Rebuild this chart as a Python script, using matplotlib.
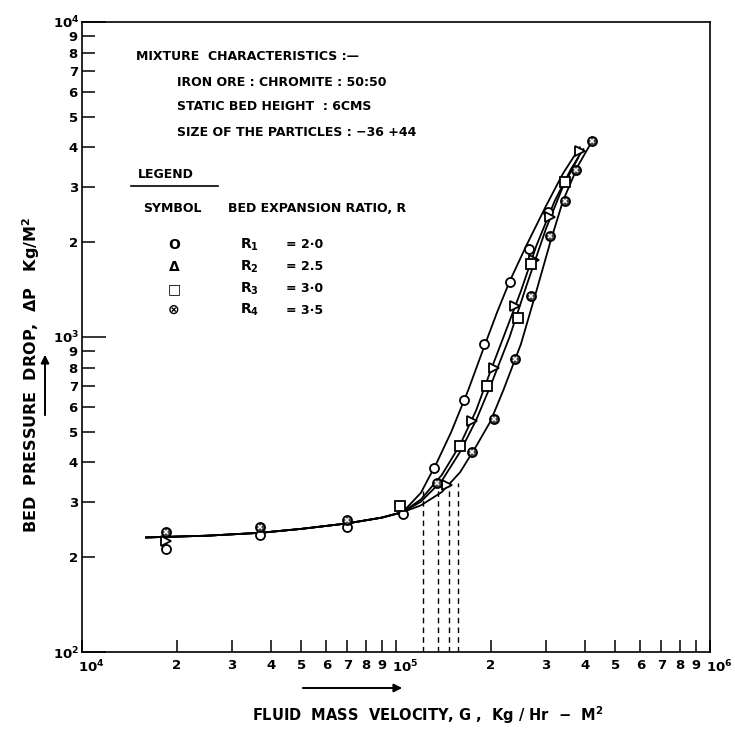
import matplotlib.pyplot as plt
import matplotlib.transforms as mtransforms

plt.rcParams['font.family'] = ['DejaVu Sans']
plt.rcParams['font.weight'] = 'bold'
plt.rcParams['mathtext.default'] = 'bf'

# measured points, G (kg/hr-m2) vs dP (kg/m2)
r1_x = [1.85e4, 3.7e4, 7.0e4, 1.05e5, 1.32e5, 1.65e5, 1.9e5, 2.3e5, 2.65e5, 3.05e5]
r1_y = [213, 236, 250, 275, 385, 630, 950, 1500, 1900, 2500]

r2_x = [1.85e4, 1.45e5, 1.75e5, 2.05e5, 2.4e5, 2.75e5, 3.1e5, 3.85e5]
r2_y = [225, 340, 540, 800, 1250, 1750, 2400, 3900]

r3_x = [1.03e5, 1.6e5, 1.95e5, 2.45e5, 2.7e5, 3.45e5]
r3_y = [290, 450, 700, 1150, 1700, 3100]

r4_x = [1.85e4, 3.7e4, 7.0e4, 1.35e5, 1.75e5, 2.05e5, 2.4e5, 2.7e5, 3.1e5, 3.45e5, 3.75e5, 4.2e5]
r4_y = [240, 249, 263, 345, 430, 550, 850, 1350, 2100, 2700, 3400, 4200]

# fitted curves
base_x = [1.6e4, 2.5e4, 3.7e4, 5e4, 7e4, 9e4, 1.05e5]
base_y = [231, 234, 239, 246, 256, 267, 278]

c1_x = base_x + [1.2e5, 1.35e5, 1.5e5, 1.7e5, 1.9e5, 2.1e5, 2.3e5, 2.6e5, 3.0e5, 3.4e5, 3.85e5]
c1_y = base_y + [320, 400, 500, 680, 920, 1200, 1500, 1950, 2600, 3300, 4000]

c2_x = base_x + [1.2e5, 1.4e5, 1.6e5, 1.8e5, 2.0e5, 2.2e5, 2.5e5, 2.8e5, 3.2e5, 3.6e5, 3.95e5]
c2_y = base_y + [305, 365, 455, 585, 780, 1000, 1400, 1950, 2700, 3400, 3950]

c3_x = base_x + [1.2e5, 1.4e5, 1.6e5, 1.8e5, 2.0e5, 2.3e5, 2.6e5, 3.0e5, 3.4e5, 3.8e5]
c3_y = base_y + [300, 350, 432, 545, 700, 1000, 1450, 2200, 3000, 3700]

c4_x = base_x + [1.2e5, 1.4e5, 1.6e5, 1.8e5, 2.0e5, 2.2e5, 2.5e5, 2.8e5, 3.1e5, 3.4e5, 3.8e5, 4.25e5]
c4_y = base_y + [292, 322, 372, 450, 540, 680, 950, 1400, 2000, 2700, 3500, 4250]

# minimum fluidisation verticals
dash_x = [1.22e5, 1.36e5, 1.47e5, 1.58e5]
dash_top = [330, 345, 345, 345]

xmaj = [1e4, 1e5, 1e6]
xmaj_lab = [r'$10^{4}$', r'$10^{5}$', r'$10^{6}$']
ymaj = [1e2, 1e3, 1e4]
ymaj_lab = [r'$10^{2}$', r'$10^{3}$', r'$10^{4}$']
minor_k = [2, 3, 4, 5, 6, 7, 8, 9]

W, H = 735, 736


def fx(p):
    return p / W


def fy(p):
    return 1 - p / H


fig = plt.figure(figsize=(W / 100, H / 100), dpi=100)
ax = fig.add_axes([fx(82), fy(652), (710 - 82) / W, (652 - 22) / H])
ax.set_xscale('log')
ax.set_yscale('log')
ax.set_xlim(1e4, 1e6)
ax.set_ylim(1e2, 1e4)

for cx, cy in [(c1_x, c1_y), (c2_x, c2_y), (c3_x, c3_y), (c4_x, c4_y)]:
    ax.plot(cx, cy, color='black', lw=1.3, zorder=2)

ax.vlines(dash_x, 100, dash_top, colors='black', linestyles=(0, (4, 3)), lw=1.0)

mk = dict(linestyle='none', markersize=6.5, markeredgewidth=1.3, markeredgecolor='black', zorder=3)
ax.plot(r1_x, r1_y, marker='o', markerfacecolor='white', **mk)
ax.plot(r2_x, r2_y, marker='>', markerfacecolor='white', **mk)
ax.plot(r3_x, r3_y, marker='s', markerfacecolor='white', **mk)
ax.plot(r4_x, r4_y, marker='o', markerfacecolor='#444444', **mk)
ax.plot(r4_x, r4_y, marker='x', linestyle='none', markersize=3.5, markeredgewidth=1.1,
        color='white', zorder=4)

ax.set_xticks(xmaj, xmaj_lab)
ax.set_xticks([k * 10 ** d for d in (4, 5) for k in minor_k],
              [str(k) for d in (4, 5) for k in minor_k], minor=True)
ax.set_yticks(ymaj, ymaj_lab)
ax.set_yticks([k * 10 ** d for d in (2, 3) for k in minor_k],
              [str(k) for d in (2, 3) for k in minor_k], minor=True)

ax.tick_params(axis='both', which='both', direction='in', width=1.1, labelsize=9.5,
               top=False, right=False)
ax.tick_params(axis='x', which='both', length=9, pad=5)
ax.tick_params(axis='y', which='minor', length=9, pad=3)
ax.tick_params(axis='y', which='major', length=17, pad=2)
for s in ax.spines.values():
    s.set_linewidth(1.2)

# decade labels sit just right of their tick, as on the drawing
shift = mtransforms.ScaledTranslation(-4 / 100, 0, fig.dpi_scale_trans)
for lab in ax.get_xticklabels():
    lab.set_horizontalalignment('left')
    lab.set_transform(lab.get_transform() + shift)

fs = 9
fig.text(fx(136), fy(57), 'MIXTURE  CHARACTERISTICS :—', fontsize=fs, va='center')
fig.text(fx(177), fy(82), 'IRON ORE : CHROMITE : 50:50', fontsize=fs, va='center')
fig.text(fx(177), fy(107), 'STATIC BED HEIGHT  : 6CMS', fontsize=fs, va='center')
fig.text(fx(177), fy(132), 'SIZE OF THE PARTICLES : −36 +44', fontsize=fs, va='center')
fig.text(fx(138), fy(175), 'LEGEND', fontsize=fs, va='center')
fig.add_artist(plt.Line2D([fx(131), fx(218)], [fy(186), fy(186)], color='black', lw=1.2))
fig.text(fx(143), fy(208), 'SYMBOL', fontsize=fs, va='center')
fig.text(fx(228), fy(208), 'BED EXPANSION RATIO, R', fontsize=fs, va='center')

sym = ['O', 'Δ', '□', '⊗']
rlab = [r'$R_{1}$', r'$R_{2}$', r'$R_{3}$', r'$R_{4}$']
rval = ['= 2·0', '= 2.5', '= 3·0', '= 3·5']
rows = [245, 267, 289, 310]
for s, r, v, yy in zip(sym, rlab, rval, rows):
    fig.text(fx(174), fy(yy), s, fontsize=fs + 1, va='center', ha='center')
    fig.text(fx(240), fy(yy), r, fontsize=fs + 1, va='center')
    fig.text(fx(286), fy(yy), v, fontsize=fs, va='center')

fig.text(fx(31), fy(375), r'BED  PRESSURE  DROP,  ΔP   Kg/M$^{2}$', fontsize=11.5,
         rotation=90, ha='center', va='center')
fig.text(fx(428), fy(715), r'FLUID  MASS  VELOCITY, G ,  Kg / Hr  −  M$^{2}$', fontsize=10.5,
         ha='center', va='center')

ax.annotate('', xy=(fx(45), fy(352)), xytext=(fx(45), fy(418)), xycoords='figure fraction',
            arrowprops=dict(arrowstyle='-|>', color='black', lw=1.4, mutation_scale=12))
ax.annotate('', xy=(fx(405), fy(688)), xytext=(fx(300), fy(688)), xycoords='figure fraction',
            arrowprops=dict(arrowstyle='-|>', color='black', lw=1.4, mutation_scale=12))

fig.savefig('out.png', dpi=100)
